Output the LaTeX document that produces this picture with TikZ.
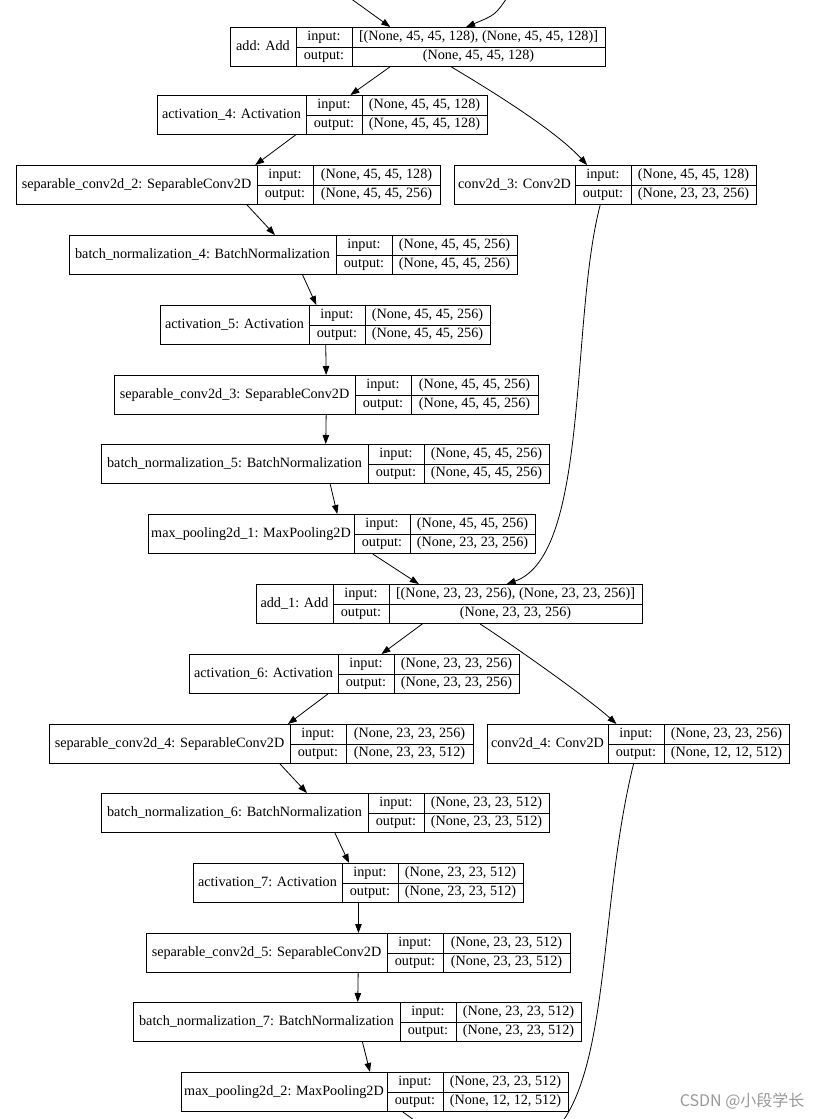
\documentclass[tikz,border=0pt]{standalone}
\usepackage{fontspec}
\usepackage{tikz}
\usetikzlibrary{calc,positioning,arrows.meta}
\setmainfont{Liberation Serif}
\newfontfamily\cjkfont{Noto Sans CJK SC}
\tikzset{
    layer box/.style={
        draw,line width=.9pt,
        inner sep=0pt,minimum height=39,
        anchor=north west
    },
    cell text/.style={
        inner sep=0pt,text height=9pt,text depth=2pt,
        font=\fontsize{14.2}{16}\selectfont
    },
    edge/.style={line width=.8pt},
    >={Triangle[length=9pt,width=6.5pt]}
}
% #1 node, #2 top left corner, #3/#4/#5 widths of the three columns,
% #6 layer title, #7 input shape, #8 output shape
\newcommand{\layernode}[8]{%
    \node[layer box,minimum width=#3+#4+#5] (#1) at #2 {};
    \draw[line width=.9pt] ($(#1.north west)+(#3,0)$) -- ($(#1.south west)+(#3,0)$)
        ($(#1.north west)+(#3+#4,0)$) -- ($(#1.south west)+(#3+#4,0)$)
        ($(#1.west)+(#3,0)$) -- (#1.east);
    \node[cell text] (#1_title) at ($(#1.west)+(#3/2,0)$) {#6};
    \node[cell text] (#1_inlabel) at ($(#1.north west)+(#3+#4/2,9.75)$) {input:};
    \node[cell text] (#1_outlabel) at ($(#1.north west)+(#3+#4/2,29.25)$) {output:};
    \node[cell text] (#1_in) at ($(#1.north west)+(#3+#4+#5/2,9.75)$) {#7};
    \node[cell text] (#1_out) at ($(#1.north west)+(#3+#4+#5/2,29.25)$) {#8};
}

\begin{document}
\begin{tikzpicture}[x=1pt,y=-1pt]
\useasboundingbox (0,0) rectangle (824,1119);

% left branch
\layernode{add}{(230,27)}{66}{56}{253}{add: Add}{[(None, 45, 45, 128), (None, 45, 45, 128)]}{(None, 45, 45, 128)}
\layernode{act4}{(157,95)}{149}{56}{125}{activation\_4: Activation}{(None, 45, 45, 128)}{(None, 45, 45, 128)}
\layernode{sep2}{(16,165)}{241}{56}{127}{separable\_conv2d\_2: SeparableConv2D}{(None, 45, 45, 128)}{(None, 45, 45, 256)}
\layernode{conv3}{(454,165)}{121}{56}{125}{conv2d\_3: Conv2D}{(None, 45, 45, 128)}{(None, 23, 23, 256)}
\layernode{bn4}{(69,235)}{267}{56}{125}{batch\_normalization\_4: BatchNormalization}{(None, 45, 45, 256)}{(None, 45, 45, 256)}
\layernode{act5}{(160,305)}{149}{56}{125}{activation\_5: Activation}{(None, 45, 45, 256)}{(None, 45, 45, 256)}
\layernode{sep3}{(114,375)}{241}{56}{127}{separable\_conv2d\_3: SeparableConv2D}{(None, 45, 45, 256)}{(None, 45, 45, 256)}
\layernode{bn5}{(101,444)}{267}{56}{125}{batch\_normalization\_5: BatchNormalization}{(None, 45, 45, 256)}{(None, 45, 45, 256)}
\layernode{mp1}{(148,514)}{206}{56}{125}{max\_pooling2d\_1: MaxPooling2D}{(None, 45, 45, 256)}{(None, 23, 23, 256)}

\layernode{add1}{(256,584)}{77}{56}{253}{add\_1: Add}{[(None, 23, 23, 256), (None, 23, 23, 256)]}{(None, 23, 23, 256)}
\layernode{act6}{(189,654)}{149}{56}{125}{activation\_6: Activation}{(None, 23, 23, 256)}{(None, 23, 23, 256)}
\layernode{sep4}{(49,724)}{241}{56}{127}{separable\_conv2d\_4: SeparableConv2D}{(None, 23, 23, 256)}{(None, 23, 23, 512)}
\layernode{conv4}{(487,724)}{121}{56}{125}{conv2d\_4: Conv2D}{(None, 23, 23, 256)}{(None, 12, 12, 512)}
\layernode{bn6}{(101,793)}{267}{56}{125}{batch\_normalization\_6: BatchNormalization}{(None, 23, 23, 512)}{(None, 23, 23, 512)}
\layernode{act7}{(193,863)}{149}{56}{125}{activation\_7: Activation}{(None, 23, 23, 512)}{(None, 23, 23, 512)}
\layernode{sep5}{(146,933)}{241}{56}{127}{separable\_conv2d\_5: SeparableConv2D}{(None, 23, 23, 512)}{(None, 23, 23, 512)}
\layernode{bn7}{(133,1002)}{267}{56}{125}{batch\_normalization\_7: BatchNormalization}{(None, 23, 23, 512)}{(None, 23, 23, 512)}
\layernode{mp2}{(181,1072)}{206}{56}{125}{max\_pooling2d\_2: MaxPooling2D}{(None, 23, 23, 512)}{(None, 12, 12, 512)}

% edges coming from above / leaving below
\coordinate (from_a) at (350,-2);
\coordinate (from_b) at (507,-2);
\coordinate (to_a) at (421,1125);
\coordinate (to_b) at (560,1125);
\draw[edge,->] (from_a) -- (add);
\draw[edge,->] (from_b) .. controls (495,15) .. (add);

\foreach \a/\b in {add/act4,act4/sep2,sep2/bn4,bn4/act5,act5/sep3,sep3/bn5,bn5/mp1,mp1/add1,
                   add1/act6,act6/sep4,sep4/bn6,bn6/act7,act7/sep5,sep5/bn7,bn7/mp2}
    \draw[edge,->] (\a) -- (\b);

% shortcut branches
\draw[edge,->] (add) .. controls (490,90) and (555,130) .. (conv3);
\draw[edge,->] (conv3) .. controls (570,320) and (590,555) .. (add1);
\draw[edge,->] (add1) .. controls (520,650) and (590,700) .. (conv4);
\draw[edge] (mp2) -- (to_a);
\draw[edge] (conv4) .. controls (600,900) and (610,1060) .. (to_b);

\node[text=gray!80,font=\cjkfont\fontsize{16}{18}\selectfont,anchor=east] (watermark) at (808,1101) {CSDN @小段学长};
\end{tikzpicture}
\end{document}
